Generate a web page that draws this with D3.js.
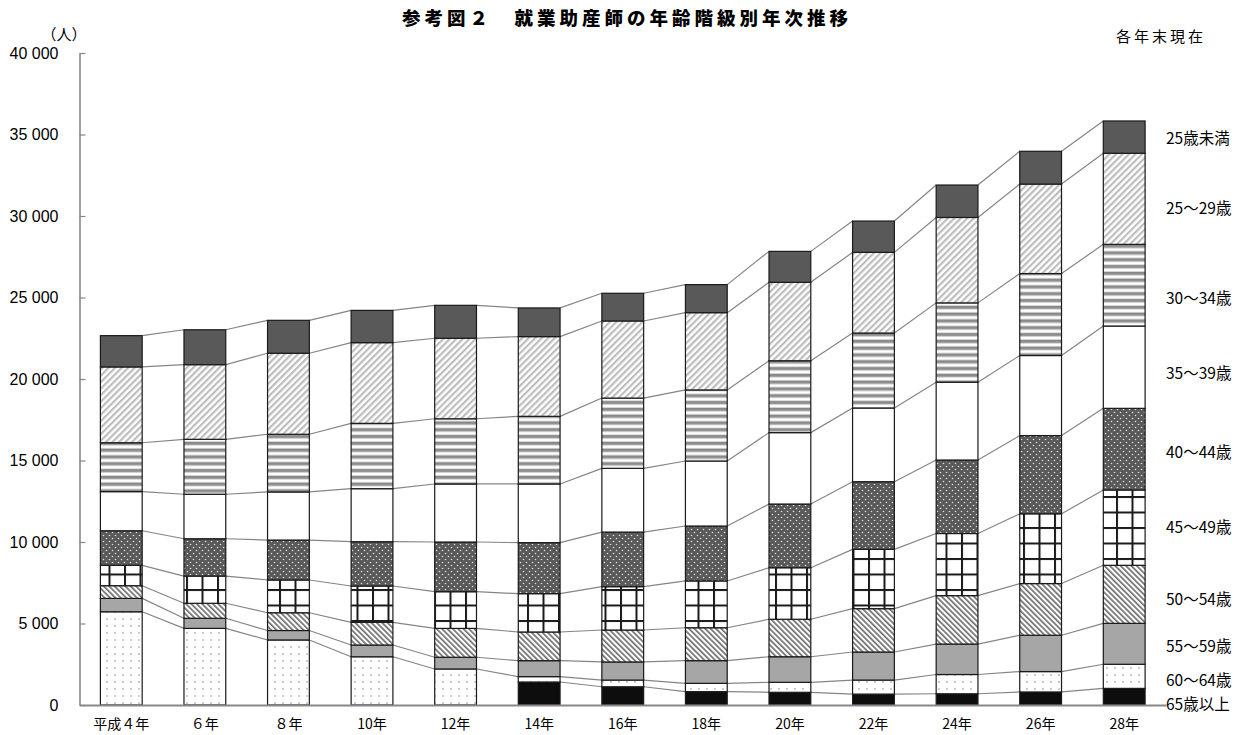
<!DOCTYPE html>
<html>
<head>
<meta charset="utf-8">
<script src="https://cdn.jsdelivr.net/npm/d3@7"></script>
<style>
    body { margin: 0; background: #fff; }
    text { font-family: "Noto Sans CJK JP", sans-serif; fill: #000; }
</style>
</head>
<body>
<div id="chart-area"></div>
<script>

/*
 *  Data (people) - stacked bottom to top
 */

var years = ["平成４年", "６年", "８年", "10年", "12年", "14年", "16年", "18年", "20年", "22年", "24年", "26年", "28年"];

var ageGroups = ["65歳以上", "60〜64歳", "55〜59歳", "50〜54歳", "45〜49歳",
                 "40〜44歳", "35〜39歳", "30〜34歳", "25〜29歳", "25歳未満"];

var age65up   = [0, 0, 0, 0, 0, 1410, 1120, 820, 780, 670, 690, 800, 1020];
var age60_64  = [5720, 4700, 3990, 2960, 2210, 330, 410, 510, 610, 860, 1180, 1250, 1480];
var age55_59  = [820, 620, 580, 720, 720, 980, 1110, 1390, 1570, 1720, 1870, 2230, 2510];
var age50_54  = [780, 920, 1090, 1390, 1770, 1760, 1960, 2020, 2300, 2660, 2970, 3170, 3560];
var age45_49  = [1250, 1670, 2010, 2230, 2250, 2350, 2660, 2870, 3160, 3640, 3810, 4280, 4620];
var age40_44  = [2120, 2290, 2450, 2720, 3050, 3130, 3350, 3370, 3910, 4150, 4510, 4800, 5010];
var age35_39  = [2400, 2730, 2950, 3250, 3560, 3600, 3910, 3990, 4380, 4520, 4770, 4910, 5050];
var age30_34  = [3000, 3370, 3540, 4010, 4000, 4150, 4310, 4360, 4410, 4600, 4870, 5030, 5010];
var age25_29  = [4650, 4580, 4970, 4950, 4940, 4890, 4730, 4740, 4810, 4950, 5240, 5490, 5590];
var under25   = [1920, 2140, 2020, 1980, 2020, 1760, 1700, 1720, 1900, 1920, 1990, 2010, 1980];

var seriesValues = [age65up, age60_64, age55_59, age50_54, age45_49,
                    age40_44, age35_39, age30_34, age25_29, under25];

var yTicks = [0, 5000, 10000, 15000, 20000, 25000, 30000, 35000, 40000];


/*
 *  StackChart - Object constructor function
 *  @param _parentElement   -- HTML element in which to draw the visualization
 */

StackChart = function(_parentElement) {
    this.parentElement = _parentElement;
    this.initVis();
}


/*
 *  Initialize visualization (svg, patterns, scales)
 */

StackChart.prototype.initVis = function() {
    var vis = this;

    vis.width = 1251;
    vis.height = 735;

    vis.svg = d3.select("#" + vis.parentElement).append("svg")
        .attr("width", vis.width)
        .attr("height", vis.height);

    var defs = vis.svg.append("defs");

    // 25-29: light "///" stripes
    var p = defs.append("pattern").attr("id", "stripeUp")
        .attr("patternUnits", "userSpaceOnUse").attr("width", 4.6).attr("height", 4.6)
        .attr("patternTransform", "rotate(45)");
    p.append("rect").attr("width", 4.6).attr("height", 4.6).attr("fill", "#fff");
    p.append("rect").attr("width", 2.2).attr("height", 4.6).attr("fill", "#bdbdbd");

    // 50-54: darker "\\\" stripes
    p = defs.append("pattern").attr("id", "stripeDown")
        .attr("patternUnits", "userSpaceOnUse").attr("width", 3.8).attr("height", 3.8)
        .attr("patternTransform", "rotate(-45)");
    p.append("rect").attr("width", 3.8).attr("height", 3.8).attr("fill", "#fff");
    p.append("rect").attr("width", 1.7).attr("height", 3.8).attr("fill", "#707070");

    // 30-34: horizontal stripes
    p = defs.append("pattern").attr("id", "stripeH")
        .attr("patternUnits", "userSpaceOnUse").attr("width", 10).attr("height", 6.8);
    p.append("rect").attr("width", 10).attr("height", 6.8).attr("fill", "#fff");
    p.append("rect").attr("y", 0).attr("width", 10).attr("height", 2.8).attr("fill", "#8a8a8a");
    p.append("rect").attr("y", 2.8).attr("width", 10).attr("height", 0.9).attr("fill", "#cfcfcf");
    p.append("rect").attr("y", 5.9).attr("width", 10).attr("height", 0.9).attr("fill", "#cfcfcf");

    // 40-44: dark with light dots
    p = defs.append("pattern").attr("id", "dotsDark")
        .attr("patternUnits", "userSpaceOnUse").attr("width", 6).attr("height", 6);
    p.append("rect").attr("width", 6).attr("height", 6).attr("fill", "#595959");
    p.append("circle").attr("cx", 1.5).attr("cy", 1.5).attr("r", 0.8).attr("fill", "#e0e0e0");
    p.append("circle").attr("cx", 4.5).attr("cy", 4.5).attr("r", 0.8).attr("fill", "#e0e0e0");

    // 45-49: black grid
    p = defs.append("pattern").attr("id", "grid")
        .attr("patternUnits", "userSpaceOnUse").attr("width", 15.5).attr("height", 15.5);
    p.append("rect").attr("width", 15.5).attr("height", 15.5).attr("fill", "#fff");
    p.append("rect").attr("width", 2).attr("height", 15.5).attr("fill", "#1a1a1a");
    p.append("rect").attr("width", 15.5).attr("height", 2).attr("fill", "#1a1a1a");

    // 60-64: white with sparse grey dots
    p = defs.append("pattern").attr("id", "dotsLight")
        .attr("patternUnits", "userSpaceOnUse").attr("width", 8).attr("height", 7);
    p.append("rect").attr("width", 8).attr("height", 7).attr("fill", "#fff");
    p.append("circle").attr("cx", 3).attr("cy", 3).attr("r", 0.8).attr("fill", "#8c8c8c");

    vis.fills = ["#0d0d0d", "url(#dotsLight)", "#a6a6a6", "url(#stripeDown)", "url(#grid)",
                 "url(#dotsDark)", "#ffffff", "url(#stripeH)", "url(#stripeUp)", "#595959"];

    // pixel nudges for the right-hand labels (relative to the last bar's segment middle)
    vis.labelNudge = [6, 3, 1, 4, -2, 2, 5, 12, 8, 0];

    vis.x = d3.scaleBand()
        .domain(years)
        .range([79.5, 1166])
        .paddingInner(0.5)
        .paddingOuter(0.25);

    vis.y = d3.scaleLinear()
        .domain([0, 40000])
        .range([705, 53]);

    vis.wrangleData();
}


/*
 *  Data wrangling
 */

StackChart.prototype.wrangleData = function() {
    var vis = this;

    vis.rows = years.map(function(yr, i) {
        var row = { year: yr };
        ageGroups.forEach(function(g, k) { row[g] = seriesValues[k][i]; });
        return row;
    });

    vis.stacked = d3.stack().keys(ageGroups)(vis.rows);

    vis.updateVis();
}


/*
 *  The drawing function
 */

StackChart.prototype.updateVis = function() {
    var vis = this;
    var bw = vis.x.bandwidth();

    // Series lines between neighbouring bars
    vis.stacked.forEach(function(layer, k) {
        for (var i = 0; i < layer.length - 1; i++) {
            var a = layer[i], b = layer[i + 1];
            if (k == 0 && (a[1] == 0 || b[1] == 0)) continue;
            vis.svg.append("line")
                .attr("x1", vis.x(years[i]) + bw)
                .attr("y1", vis.y(a[1]))
                .attr("x2", vis.x(years[i + 1]))
                .attr("y2", vis.y(b[1]))
                .attr("stroke", "#858585")
                .attr("stroke-width", 1.2);
        }
    });

    // Bars
    var groups = vis.svg.selectAll(".layer").data(vis.stacked)
        .enter().append("g")
        .attr("class", "layer")
        .attr("fill", function(d, k) { return vis.fills[k]; });

    groups.selectAll("rect")
        .data(function(d) { return d.filter(function(s) { return s[1] - s[0] > 0; }); })
        .enter().append("rect")
        .attr("x", function(d) { return vis.x(d.data.year); })
        .attr("y", function(d) { return vis.y(d[1]); })
        .attr("width", bw)
        .attr("height", function(d) { return vis.y(d[0]) - vis.y(d[1]); })
        .attr("stroke", "#1a1a1a")
        .attr("stroke-width", 1.2);

    // Y axis (ticks point inwards)
    var yAxis = d3.axisLeft(vis.y)
        .tickValues(yTicks)
        .tickSizeInner(-6)
        .tickSizeOuter(0)
        .tickPadding(21)
        .tickFormat(function(d) { return d3.format(",")(d).replace(/,/g, " "); });

    var yg = vis.svg.append("g")
        .attr("transform", "translate(79.5,0)")
        .call(yAxis);
    yg.select(".domain").attr("stroke", "#888").attr("stroke-width", 1.6);
    yg.selectAll(".tick line").attr("stroke", "#888").attr("stroke-width", 1.2);
    yg.selectAll(".tick text")
        .style("font-family", "'Liberation Sans', Arial, sans-serif")
        .style("font-size", "16px")
        .attr("fill", "#000");

    // X axis
    var xAxis = d3.axisBottom(vis.x).tickSize(0).tickPadding(14);
    var xg = vis.svg.append("g")
        .attr("transform", "translate(0," + vis.y(0) + ")")
        .call(xAxis);
    xg.select(".domain").attr("stroke", "#888").attr("stroke-width", 2);
    xg.selectAll(".tick text")
        .style("font-family", "'Noto Sans CJK JP', sans-serif")
        .style("font-size", "14px")
        .attr("fill", "#000");

    // Right-hand series labels
    var last = years.length - 1;
    vis.stacked.forEach(function(layer, k) {
        var s = layer[last];
        vis.svg.append("text")
            .attr("x", 1166)
            .attr("y", vis.y((s[0] + s[1]) / 2) + vis.labelNudge[k])
            .attr("dominant-baseline", "central")
            .style("font-size", "15.5px")
            .text(ageGroups[k]);
    });

    // Titles
    vis.svg.append("text")
        .attr("x", 627)
        .attr("y", 17)
        .attr("text-anchor", "middle")
        .attr("dominant-baseline", "central")
        .style("font-size", "18.5px")
        .style("font-weight", "900")
        .style("letter-spacing", "4px")
        .text("参考図２　就業助産師の年齢階級別年次推移");

    vis.svg.append("text")
        .attr("x", 1161)
        .attr("y", 35)
        .attr("text-anchor", "middle")
        .attr("dominant-baseline", "central")
        .style("font-size", "15px")
        .style("letter-spacing", "3px")
        .text("各年末現在");

    vis.svg.append("text")
        .attr("x", 64)
        .attr("y", 33)
        .attr("text-anchor", "middle")
        .attr("dominant-baseline", "central")
        .style("font-size", "15px")
        .text("（人）");
}

var chart = new StackChart("chart-area");

</script>
</body>
</html>
